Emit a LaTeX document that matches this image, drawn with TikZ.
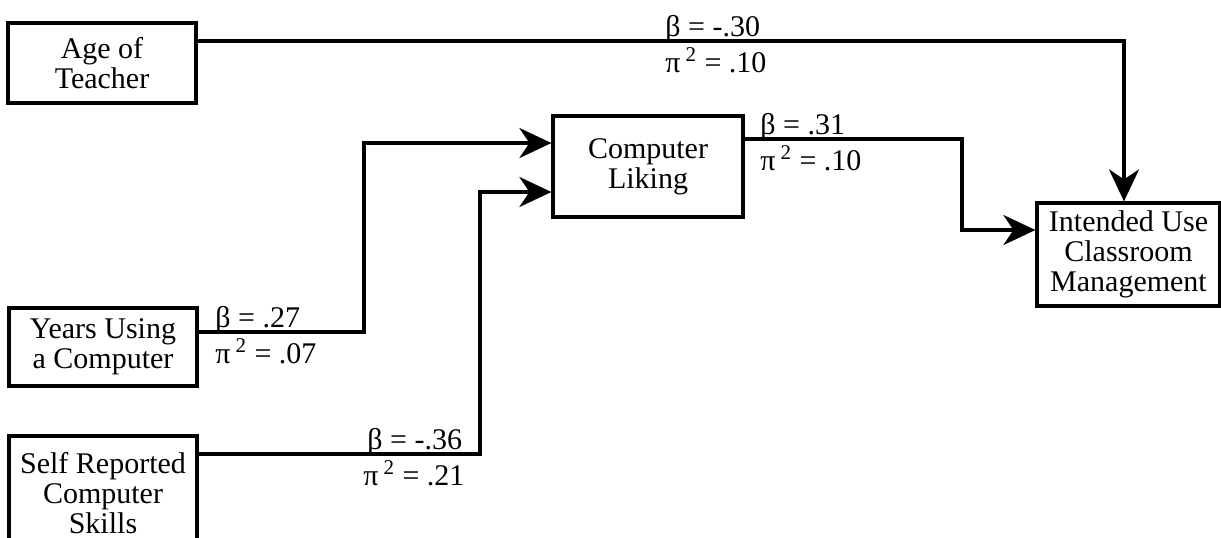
\documentclass[tikz,border=0pt]{standalone}
\usepackage{fontspec}
\setmainfont{Liberation Serif}
\usetikzlibrary{arrows.meta,positioning}
\begin{document}
\begin{tikzpicture}[x=0.5pt, y=-0.5pt,
    box/.style={draw, line width=1.6pt, align=center, inner sep=0pt,
        font=\fontsize{15}{15}\selectfont},
    path/.style={line width=1.6pt},
    arr/.style={path, -{Stealth[length=16pt, width=15pt, inset=5pt]}},
    coef/.style={anchor=base west, inner sep=0pt, font=\fontsize{15}{15}\selectfont}]
\useasboundingbox (0,0) rectangle (1221,537);

% Variables
\node[box, minimum width=94pt, minimum height=40pt] (age) at (102,63) {Age of\\Teacher};
\node[box, minimum width=95pt, minimum height=50.5pt] (liking) at (648,166.5) {Computer\\Liking};
\node[box, minimum width=91.5pt, minimum height=51.5pt] (use) at (1128.5,254.5) {Intended Use\\Classroom\\Management};
\node[box, minimum width=94pt, minimum height=39pt] (years) at (103,347) {Years Using\\a Computer};
\node[box, minimum width=94pt, minimum height=57pt] (skills) at (103,493) {Self Reported\\Computer\\Skills};

% Paths
\draw[arr] (age.east |- 0,41) -| (use.north -| 1124,0);
\draw[arr] (liking.east |- 0,139) -- (962,139) |- (use.west |- 0,230);
\draw[arr] (years.east |- 0,332) -- (364,332) |- (liking.west |- 0,143);
\draw[arr] (skills.east |- 0,454) -- (480,454) |- (liking.west |- 0,192);

% Coefficients
\node[coef] (b1) at (665,36) {β = -.30};
\node[coef] (p1) at (665,72) {π\,\textsuperscript{2} = .10};
\node[coef] (b2) at (760,134) {β = .31};
\node[coef] (p2) at (760,170) {π\,\textsuperscript{2} = .10};
\node[coef] (b3) at (215,327) {β = .27};
\node[coef] (p3) at (215,363) {π\,\textsuperscript{2} = .07};
\node[coef] (b4) at (367,449) {β = -.36};
\node[coef] (p4) at (363,485) {π\,\textsuperscript{2} = .21};
\end{tikzpicture}
\end{document}
